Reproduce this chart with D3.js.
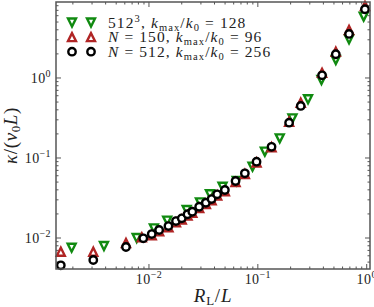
<!DOCTYPE html>
<html>
<head>
<meta charset="utf-8">
<script src="https://cdn.jsdelivr.net/npm/d3@7"></script>
<style>
  body { margin: 0; background: #fff; }
  svg { display: block; }
  text { font-family: "Liberation Serif", "DejaVu Serif", serif; fill: #222; }
</style>
</head>
<body>
<script>
// N = 512, kmax/k0 = 256 (black circles)
const circleX = [0.00155, 0.00308, 0.00615, 0.00887, 0.0106, 0.0124, 0.0151, 0.0177, 0.0200, 0.0226, 0.0250, 0.0289, 0.0333, 0.0376, 0.0423, 0.0498, 0.0624, 0.0760, 0.0973, 0.1336, 0.1937, 0.2477, 0.389, 0.520, 0.688, 0.964];
const circleY = [0.00456, 0.00531, 0.00772, 0.00991, 0.0112, 0.0126, 0.0141, 0.0163, 0.0176, 0.0198, 0.0213, 0.0246, 0.0276, 0.0307, 0.0352, 0.0398, 0.0516, 0.0644, 0.0899, 0.138, 0.276, 0.447, 1.08, 1.98, 3.55, 7.22];
// N = 150, kmax/k0 = 96 (red up-triangles)
const redX = [0.00155, 0.00308, 0.00615, 0.0086, 0.0106, 0.0124, 0.0151, 0.0177, 0.0200, 0.0226, 0.0250, 0.0289, 0.0333, 0.0376, 0.0423, 0.0498, 0.0624, 0.0760, 0.0973, 0.1336, 0.1937, 0.2477, 0.389, 0.520, 0.688, 0.964];
const redY = [0.00674, 0.00674, 0.00866, 0.0102, 0.0108, 0.0121, 0.0136, 0.0157, 0.0170, 0.0191, 0.0206, 0.0237, 0.0266, 0.0296, 0.0340, 0.0384, 0.0500, 0.0630, 0.0880, 0.136, 0.284, 0.491, 1.16, 2.13, 3.98, 7.94];
// 512^3, kmax/k0 = 128 (green down-triangles)
const greenX = [0.00195, 0.00386, 0.00771, 0.0111, 0.0147, 0.0222, 0.0294, 0.0363, 0.0474, 0.0640, 0.0894, 0.116, 0.159, 0.208, 0.289, 0.384, 0.520, 0.688, 0.938];
const greenY = [0.00757, 0.00794, 0.0100, 0.0132, 0.0165, 0.0224, 0.0279, 0.0352, 0.0438, 0.0516, 0.0779, 0.120, 0.176, 0.313, 0.542, 0.944, 1.68, 3.05, 5.84];

const xDomain = [0.0014, 1.072];
const yDomain = [0.0041, 8.9];
const majorTicks = [0.01, 0.1, 1];
const majorExp = ["\u22122", "\u22121", "0"];

const width = 374, height = 307;
const margin = { top: 2, right: 4, bottom: 38, left: 56 };

const svg = d3.select("body").append("svg")
    .attr("width", width)
    .attr("height", height);

const xScale = d3.scaleLog().domain(xDomain).range([margin.left, width - margin.right]);
const yScale = d3.scaleLog().domain(yDomain).range([height - margin.bottom, margin.top]);

const x0 = margin.left, x1 = width - margin.right;
const y0 = height - margin.bottom, y1 = margin.top;

// ticks (inward, on all four sides)
const minorX = [], minorY = [];
for (let e = -3; e <= 0; e++) {
    for (let m = 2; m <= 9; m++) {
        const v = m * Math.pow(10, e);
        if (v > xDomain[0] && v < xDomain[1]) minorX.push(v);
        if (v > yDomain[0] && v < yDomain[1]) minorY.push(v);
    }
}
const tickColor = "#555";
const ticks = svg.append("g").attr("stroke", tickColor).attr("stroke-width", 1);
const addX = (vals, len) => vals.forEach(v => {
    const x = xScale(v);
    ticks.append("line").attr("x1", x).attr("x2", x).attr("y1", y0).attr("y2", y0 - len);
    ticks.append("line").attr("x1", x).attr("x2", x).attr("y1", y1).attr("y2", y1 + len);
});
const addY = (vals, len) => vals.forEach(v => {
    const y = yScale(v);
    ticks.append("line").attr("y1", y).attr("y2", y).attr("x1", x0).attr("x2", x0 + len);
    ticks.append("line").attr("y1", y).attr("y2", y).attr("x1", x1).attr("x2", x1 - len);
});
addX(majorTicks, 5); addX(minorX, 2.5);
addY(majorTicks, 5); addY(minorY, 2.5);

// tick labels
majorTicks.forEach((v, i) => {
    const tx = svg.append("text")
        .attr("x", xScale(v)).attr("y", y0 + 15)
        .attr("text-anchor", "middle").attr("font-size", 14).attr("letter-spacing", 0.4);
    tx.append("tspan").text("10");
    tx.append("tspan").attr("dy", -6).attr("font-size", 10).text(majorExp[i]);

    const ty = svg.append("text")
        .attr("x", x0 - 5).attr("y", yScale(v) + 5)
        .attr("text-anchor", "end").attr("font-size", 14).attr("letter-spacing", 0.4);
    ty.append("tspan").text("10");
    ty.append("tspan").attr("dy", -6).attr("font-size", 10).text(majorExp[i]);
});

// marker shapes
const tri = (s, down) => down
    ? `M0,${s}L${-s},${-s}L${s},${-s}Z`
    : `M0,${-s}L${-s},${s}L${s},${s}Z`;
const green = "#108a10", red = "#b02525";

const plot = svg.append("g");
const drawTri = (xs, ys, color, down) => {
    plot.append("g").selectAll("path")
        .data(xs.map((d, i) => [d, ys[i]]))
        .join("path")
        .attr("d", tri(4, down))
        .attr("transform", d => `translate(${xScale(d[0])},${yScale(d[1])})`)
        .attr("fill", "#fff").attr("stroke", color).attr("stroke-width", 2.4)
        .attr("stroke-linejoin", "miter");
};
drawTri(greenX, greenY, green, true);
drawTri(redX, redY, red, false);
plot.append("g").selectAll("circle")
    .data(circleX.map((d, i) => [d, circleY[i]]))
    .join("circle")
    .attr("cx", d => xScale(d[0])).attr("cy", d => yScale(d[1]))
    .attr("r", 3.7)
    .attr("fill", "#fff").attr("stroke", "#000").attr("stroke-width", 2.4);

// frame
svg.append("rect")
    .attr("x", x0).attr("y", y1).attr("width", x1 - x0).attr("height", y0 - y1)
    .attr("fill", "none").attr("stroke", tickColor).attr("stroke-width", 1.5);

// legend
const legend = [
    { color: green, shape: "down", parts: [["512", ""], ["3", "sup"], [", ", ""], ["k", "i"], ["max", "sub"], ["/", ""], ["k", "i"], ["0", "sub"], [" = 128", ""]] },
    { color: red, shape: "up", parts: [["N", "i"], [" = 150, ", ""], ["k", "i"], ["max", "sub"], ["/", ""], ["k", "i"], ["0", "sub"], [" = 96", ""]] },
    { color: "#000", shape: "circle", parts: [["N", "i"], [" = 512, ", ""], ["k", "i"], ["max", "sub"], ["/", ""], ["k", "i"], ["0", "sub"], [" = 256", ""]] }
];
const mathText = (sel, parts, size) => {
    let shift = 0;
    parts.forEach(([t, kind]) => {
        const ts = sel.append("tspan").text(t);
        let target = 0;
        if (kind === "sub") target = 3;
        if (kind === "sup") target = -6;
        ts.attr("dy", target - shift);
        shift = target;
        if (kind === "i") ts.attr("font-style", "italic");
        if (kind === "sub" || kind === "sup") ts.attr("font-size", size * 0.68);
    });
};
legend.forEach((d, i) => {
    const cy = 22.5 + i * 14.6;
    [72, 91].forEach(cx => {
        if (d.shape === "circle") {
            svg.append("circle").attr("cx", cx).attr("cy", cy).attr("r", 3.7)
                .attr("fill", "#fff").attr("stroke", d.color).attr("stroke-width", 2.4);
        } else {
            svg.append("path").attr("d", tri(4, d.shape === "down"))
                .attr("transform", `translate(${cx},${cy})`)
                .attr("fill", "#fff").attr("stroke", d.color).attr("stroke-width", 2.4);
        }
    });
    const t = svg.append("text").attr("x", 108).attr("y", cy + 5)
        .attr("font-size", 15.5).attr("letter-spacing", 1.1);
    mathText(t, d.parts, 15.5);
});

// axis labels
const xl = svg.append("text")
    .attr("x", 213).attr("y", 302)
    .attr("text-anchor", "middle").attr("font-size", 19).attr("letter-spacing", 0.8);
mathText(xl, [["R", "i"], ["L", "sub"], ["/", ""], ["L", "i"]], 19);

const yl = svg.append("text")
    .attr("transform", `translate(17,${(y0 + y1) / 2}) rotate(-90)`)
    .attr("text-anchor", "middle").attr("font-size", 19).attr("letter-spacing", 0.6);
mathText(yl, [["\u03ba", "i"], ["/(", ""], ["v", "i"], ["0", "sub"], ["L", "i"], [")", ""]], 19);
</script>
</body>
</html>
